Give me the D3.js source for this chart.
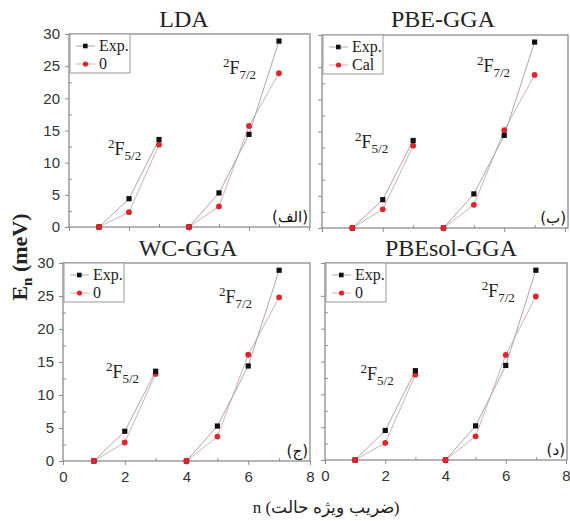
<!DOCTYPE html>
<html><head><meta charset="utf-8">
<script src="https://cdn.jsdelivr.net/npm/d3@7"></script>
<style>
body{margin:0;background:#fff}svg{display:block}
.serif{font-family:"Liberation Serif","Times New Roman","DejaVu Serif",Times,serif}
.sans{font-family:"Liberation Sans",Arial,Helvetica,sans-serif}
.arab{font-family:"DejaVu Sans","Noto Sans",sans-serif}
</style>
</head><body>
<svg id="chart" width="570" height="521"></svg>
<script>
// ---- data ----
const nValues = [1, 2, 3, 4, 5, 6, 7];
const groups = [[0, 1, 2], [3, 4, 5, 6]]; // indices: 2F5/2 (n=1..3), 2F7/2 (n=4..7)
const titles = ["LDA", "PBE-GGA", "WC-GGA", "PBEsol-GGA"];
const expLDA = [0, 4.4, 13.6, 0, 5.3, 14.4, 28.9];
const calLDA = [0, 2.3, 12.8, 0, 3.2, 15.7, 23.9];
const expPBE = [0, 4.4, 13.6, 0, 5.3, 14.4, 28.9];
const calPBE = [0, 2.9, 12.8, 0, 3.6, 15.2, 23.8];
const expWC = [0, 4.5, 13.6, 0, 5.3, 14.4, 28.9];
const calWC = [0, 2.8, 13.2, 0, 3.7, 16.1, 24.8];
const expPBEsol = [0, 4.5, 13.6, 0, 5.2, 14.4, 28.9];
const calPBEsol = [0, 2.6, 13.0, 0, 3.6, 16.0, 24.9];
const legendExp = "Exp.";
const legendCal = ["0", "Cal", "0", "0"];
const panelTags = ["(الف)", "(ب)", "(ج)", "(د)"];
const yTicks = [0, 5, 10, 15, 20, 25, 30];
const xTicks = [0, 2, 4, 6, 8];
const stateLabels = [["5/2", 1.3, 11.2, "7/2", 5.13, 23.8],
                     ["5/2", 1.09, 12.4, "7/2", 5.1, 24.3],
                     ["5/2", 1.39, 12.6, "7/2", 5.05, 23.9],
                     ["5/2", 1.18, 12.2, "7/2", 5.2, 24.8]];
const yLabel = "E";
const yLabelSub = "n";
const yLabelUnit = " (meV)";
const xLabel = "n (ضریب ویژه حالت)";

// ---- layout ----
const expSeries = [expLDA, expPBE, expWC, expPBEsol];
const calSeries = [calLDA, calPBE, calWC, calPBEsol];
const layout = [
  {l: 69, r: 309, b: 227, t: 34, fr: 310, showY: true, showX: false, tx: 184, ty: 27},
  {l: 322, r: 565, b: 228, t: 35, fr: 568, showY: false, showX: false, tx: 443, ty: 27},
  {l: 63, r: 310, b: 461, t: 263, fr: 310, showY: true, showX: true, tx: 188, ty: 256},
  {l: 325, r: 566, b: 460, t: 263, fr: 567, showY: false, showX: true, tx: 451, ty: 256}
];

const svg = d3.select("#chart");

layout.forEach((L, i) => {
  const x = d3.scaleLinear().domain([0, 8]).range([L.l, L.r]);
  const y = d3.scaleLinear().domain([0, 30]).range([L.b, L.t]);
  const g = svg.append("g");

  // frame
  g.append("rect").attr("x", L.l).attr("y", y(30)).attr("width", L.fr - L.l).attr("height", y(0) - y(30))
    .attr("fill", "none").attr("stroke", "#8c8c8c").attr("stroke-width", 1.3);

  // y axis
  const yAx = g.append("g").attr("transform", `translate(${L.l},0)`)
    .call(d3.axisLeft(y).tickValues(yTicks).tickSize(4).tickFormat(L.showY ? d3.format("d") : ""));
  yAx.select(".domain").remove();
  yAx.attr("font-family", null).attr("font-size", null);
  yAx.selectAll("line").attr("stroke", "#8c8c8c");
  yAx.selectAll("text").attr("class", "sans").attr("font-size", 15).attr("fill", "#333").attr("dx", "-2");
  const yMinor = g.append("g").attr("transform", `translate(${L.l},0)`)
    .call(d3.axisRight(y).tickValues(yTicks.slice(0, -1).map(v => v + 2.5)).tickSize(3).tickFormat(""));
  yMinor.select(".domain").remove();
  yMinor.selectAll("line").attr("stroke", "#8c8c8c");

  // x axis
  const xAx = g.append("g").attr("transform", `translate(0,${L.b})`)
    .call(d3.axisBottom(x).tickValues(xTicks).tickSize(4).tickFormat(L.showX ? d3.format("d") : ""));
  xAx.select(".domain").remove();
  xAx.attr("font-family", null).attr("font-size", null);
  xAx.selectAll("line").attr("stroke", "#8c8c8c");
  xAx.selectAll("text").attr("class", "sans").attr("font-size", 15).attr("fill", "#333").attr("dy", "0.9em");
  const xMinor = g.append("g").attr("transform", `translate(0,${L.b})`)
    .call(d3.axisTop(x).tickValues([1, 3, 5, 7]).tickSize(3).tickFormat(""));
  xMinor.select(".domain").remove();
  xMinor.selectAll("line").attr("stroke", "#8c8c8c");

  // title
  g.append("text").attr("class", "serif").attr("x", L.tx).attr("y", L.ty).attr("text-anchor", "middle")
    .attr("font-size", 24).attr("fill", "#222").text(titles[i]);

  const line = d3.line().x(d => x(nValues[d.i])).y(d => y(d.v));
  const ex = expSeries[i], ca = calSeries[i];
  groups.forEach(gr => {
    g.append("path").datum(gr.map(k => ({i: k, v: ca[k]}))).attr("d", line)
      .attr("fill", "none").attr("stroke", "#d4b0b0").attr("stroke-width", 1);
    g.append("path").datum(gr.map(k => ({i: k, v: ex[k]}))).attr("d", line)
      .attr("fill", "none").attr("stroke", "#a8a8a8").attr("stroke-width", 1);
  });
  g.selectAll(".cal").data(ca).enter().append("circle")
    .attr("cx", (d, k) => x(nValues[k])).attr("cy", d => y(d)).attr("r", 2.9).attr("fill", "#e0242c");
  g.selectAll(".exp").data(ex).enter().append("rect")
    .attr("x", (d, k) => x(nValues[k]) - 2.6).attr("y", d => y(d) - 2.6).attr("width", 5.2).attr("height", 5.2).attr("fill", "#111");
  g.selectAll(".cal2").data(ca).enter().append("circle")
    .attr("cx", (d, k) => x(nValues[k])).attr("cy", d => y(d)).attr("r", 2.9).attr("fill", "#e0242c")
    .attr("display", (d, k) => (k === 0 || k === 3) ? null : "none");

  // legend
  const lx = L.l + 1, ly = y(30);
  g.append("rect").attr("x", lx).attr("y", ly).attr("width", 60).attr("height", 39)
    .attr("fill", "#fff").attr("stroke", "#999").attr("stroke-width", 1);
  [[legendExp, "exp"], [legendCal[i], "cal"]].forEach(([lab, kind], r) => {
    const cy = ly + 12 + r * 18;
    g.append("line").attr("x1", lx + 6).attr("x2", lx + 25).attr("y1", cy).attr("y2", cy)
      .attr("stroke", kind === "exp" ? "#a8a8a8" : "#d4b0b0").attr("stroke-width", 1);
    if (kind === "exp") g.append("rect").attr("x", lx + 13).attr("y", cy - 2.3).attr("width", 4.6).attr("height", 4.6).attr("fill", "#111");
    else g.append("circle").attr("cx", lx + 15.5).attr("cy", cy).attr("r", 2.6).attr("fill", "#e0242c");
    g.append("text").attr("class", "serif").attr("x", lx + 29).attr("y", cy + 5).attr("font-size", 16)
      .attr("fill", "#222").text(lab);
  });

  // state labels
  const sl = stateLabels[i];
  [[sl[0], sl[1], sl[2]], [sl[3], sl[4], sl[5]]].forEach(([sub, vx, vy]) => {
    const t = g.append("text").attr("class", "serif").attr("x", x(vx)).attr("y", y(vy)).attr("fill", "#222");
    t.append("tspan").attr("font-size", 13).attr("dy", -7).text("2");
    t.append("tspan").attr("font-size", 18).attr("dy", 7).text("F");
    t.append("tspan").attr("font-size", 13).attr("dy", 5).text(sub);
  });

  // panel tag
  g.append("text").attr("class", "arab").attr("x", L.fr - 2).attr("y", y(0) - 5).attr("text-anchor", "end")
    .attr("font-size", 15).attr("fill", "#111").text(panelTags[i]);
});

// axis titles
const yl = svg.append("text").attr("class", "serif").attr("transform", "translate(27,257) rotate(-90)").attr("text-anchor", "middle")
  .attr("font-weight", "bold").attr("font-size", 22).attr("fill", "#222");
yl.append("tspan").text(yLabel);
yl.append("tspan").attr("font-size", 15).attr("dy", 5).text(yLabelSub);
yl.append("tspan").attr("dy", -5).text(yLabelUnit);

svg.append("text").attr("class", "serif").attr("x", 326).attr("y", 513).attr("text-anchor", "middle")
  .attr("font-size", 17).attr("fill", "#222").text(xLabel);
</script>
</body></html>
